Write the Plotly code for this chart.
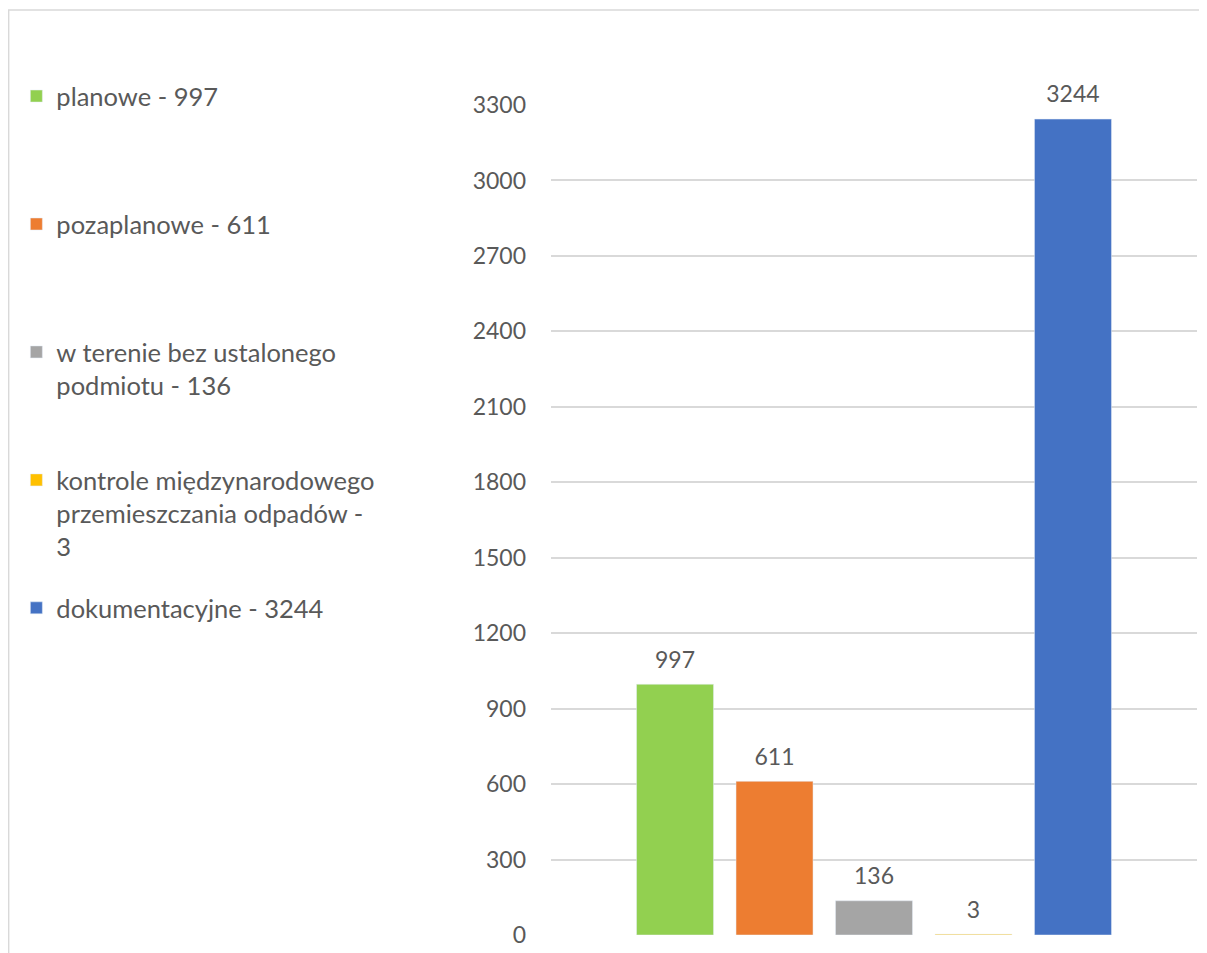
import plotly.graph_objects as go

categories = ["planowe", "pozaplanowe", "w terenie bez ustalonego podmiotu",
              "kontrole międzynarodowego przemieszczania odpadów", "dokumentacyjne"]
legend_labels = ["planowe - 997", "pozaplanowe - 611",
                 "w terenie bez ustalonego<br>podmiotu - 136",
                 "kontrole międzynarodowego<br>przemieszczania odpadów -<br>3",
                 "dokumentacyjne - 3244"]
values = [997, 611, 136, 3, 3244]
colors = ["#92D050", "#ED7D31", "#A5A5A5", "#FFC000", "#4472C4"]
tick_vals = [0, 300, 600, 900, 1200, 1500, 1800, 2100, 2400, 2700, 3000, 3300]

FONT = "Lato"
TXT = "#595959"
FS = 25.5

# page body has an 8px margin: figure is sized so it fits the 1207x953 window
W, H = 1199, 945
L, R, T, B = 543, 10, 97, 18
PW, PH = W - L - R, H - T - B

fig = go.Figure()
for i, (lab, v, c) in enumerate(zip(legend_labels, values, colors)):
    nlines = lab.count("<br>") + 1
    padded = lab + "<br> " * (3 - nlines)
    fig.add_trace(go.Bar(
        x=["kontrole"], y=[v], name=padded, marker_color=c,
        text=[f"<span style='font-size:23px'>{v}</span><br> "],
        textposition="outside", cliponaxis=False,
        textfont=dict(family=FONT, size=9, color=TXT),
        legendgroup=str(i),
    ))

fig.update_layout(
    width=W, height=H,
    paper_bgcolor="white", plot_bgcolor="white",
    margin=dict(l=L, r=R, t=T, b=B, autoexpand=False),
    barmode="group", bargap=0.23, bargroupgap=0.226,
    font=dict(family=FONT, size=FS, color=TXT),
    showlegend=True,
    legend=dict(x=-0.8276, xanchor="left", y=1.0386, yanchor="top",
                traceorder="grouped", tracegroupgap=25.5, valign="top",
                maxheight=1.0,
                font=dict(family=FONT, size=FS, color=TXT),
                itemclick=False, bgcolor="rgba(0,0,0,0)"),
    xaxis=dict(showticklabels=False, showgrid=False, zeroline=False,
               showline=False, ticks=""),
    yaxis=dict(range=[0, 3300], tickvals=tick_vals, showgrid=True,
               gridcolor="#D9D9D9", gridwidth=1.5, zeroline=False,
               showline=False, ticks="", ticklabelstandoff=24,
               tickfont=dict(family=FONT, size=23, color=TXT)),
)
# chart frame: top and left edges
fx0 = (0 - L) / PW
fy1 = (H - B - 2) / PH
fig.add_shape(type="line", xref="paper", yref="paper",
              x0=fx0, x1=(W - L) / PW, y0=fy1, y1=fy1,
              line=dict(color="#D9D9D9", width=1.5))
fig.add_shape(type="line", xref="paper", yref="paper",
              x0=fx0 + 0.001, x1=fx0 + 0.001, y0=-B / PH, y1=fy1,
              line=dict(color="#D9D9D9", width=1.5))

fig.write_html("out.html")
